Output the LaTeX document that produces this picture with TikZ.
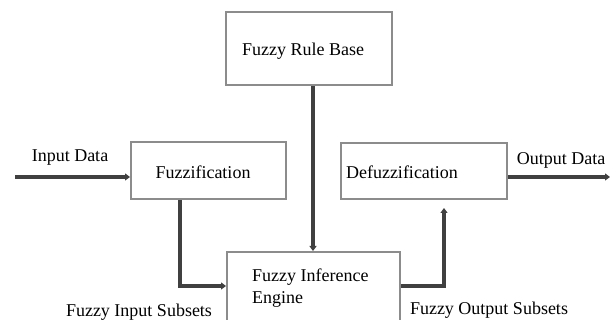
\documentclass[tikz,border=0pt]{standalone}
\usepackage{fontspec}
\setmainfont{Liberation Serif}
\usetikzlibrary{arrows.meta}
\begin{document}
\begin{tikzpicture}[x=1pt,y=-1pt,
  blk/.style={draw=black!45,line width=2pt,fill=white,inner sep=0pt},
  lbl/.style={font=\fontsize{18}{21}\selectfont,inner sep=0pt,text=black},
  arr/.style={draw=black!75,line width=3.2pt,-{Triangle[length=5pt,width=7pt]}}]
\useasboundingbox (0,0) rectangle (614,320);
\clip (0,0) rectangle (614,320);
% boxes
\node[blk,minimum width=166pt,minimum height=73pt] (rule) at (309,48.5) {};
\node[blk,minimum width=155pt,minimum height=57pt] (fuzz) at (208.5,170.5) {};
\node[blk,minimum width=166pt,minimum height=56pt] (defuzz) at (424,171) {};
\node[blk,minimum width=173pt,minimum height=80pt] (inf) at (313.5,292) {};
% box texts
\node[lbl] (ruleT) at (303,51) {Fuzzy Rule Base};
\node[lbl] (fuzzT) at (203,172) {Fuzzification};
\node[lbl] (defuzzT) at (402,172) {Defuzzification};
\node[lbl,anchor=west,align=left] (infT) at (252,288) {Fuzzy Inference\\[1pt]Engine};
% free ends
\coordinate (in) at (15,177);
\coordinate (out) at (610,177);
\coordinate (a1) at (180,286);
\coordinate (a2) at (444,286);
\coordinate (r1) at (313,0);
% connectors
\draw[arr] (in) -- (fuzz.west |- in);
\draw[arr] (defuzz.east |- out) -- (out);
\draw[arr] (r1 |- rule.south) -- (r1 |- inf.north);
\draw[arr] (a1 |- fuzz.south) |- (inf.west |- a1);
\draw[arr,shorten >=8pt] (inf.east |- a2) -| (a2 |- defuzz.south);
% labels
\node[lbl] (inL) at (70,158) {Input Data};
\node[lbl] (outL) at (561,160) {Output Data};
\node[lbl] (fisL) at (139,312) {Fuzzy Input Subsets};
\node[lbl] (fosL) at (489,310) {Fuzzy Output Subsets};
\end{tikzpicture}
\end{document}
